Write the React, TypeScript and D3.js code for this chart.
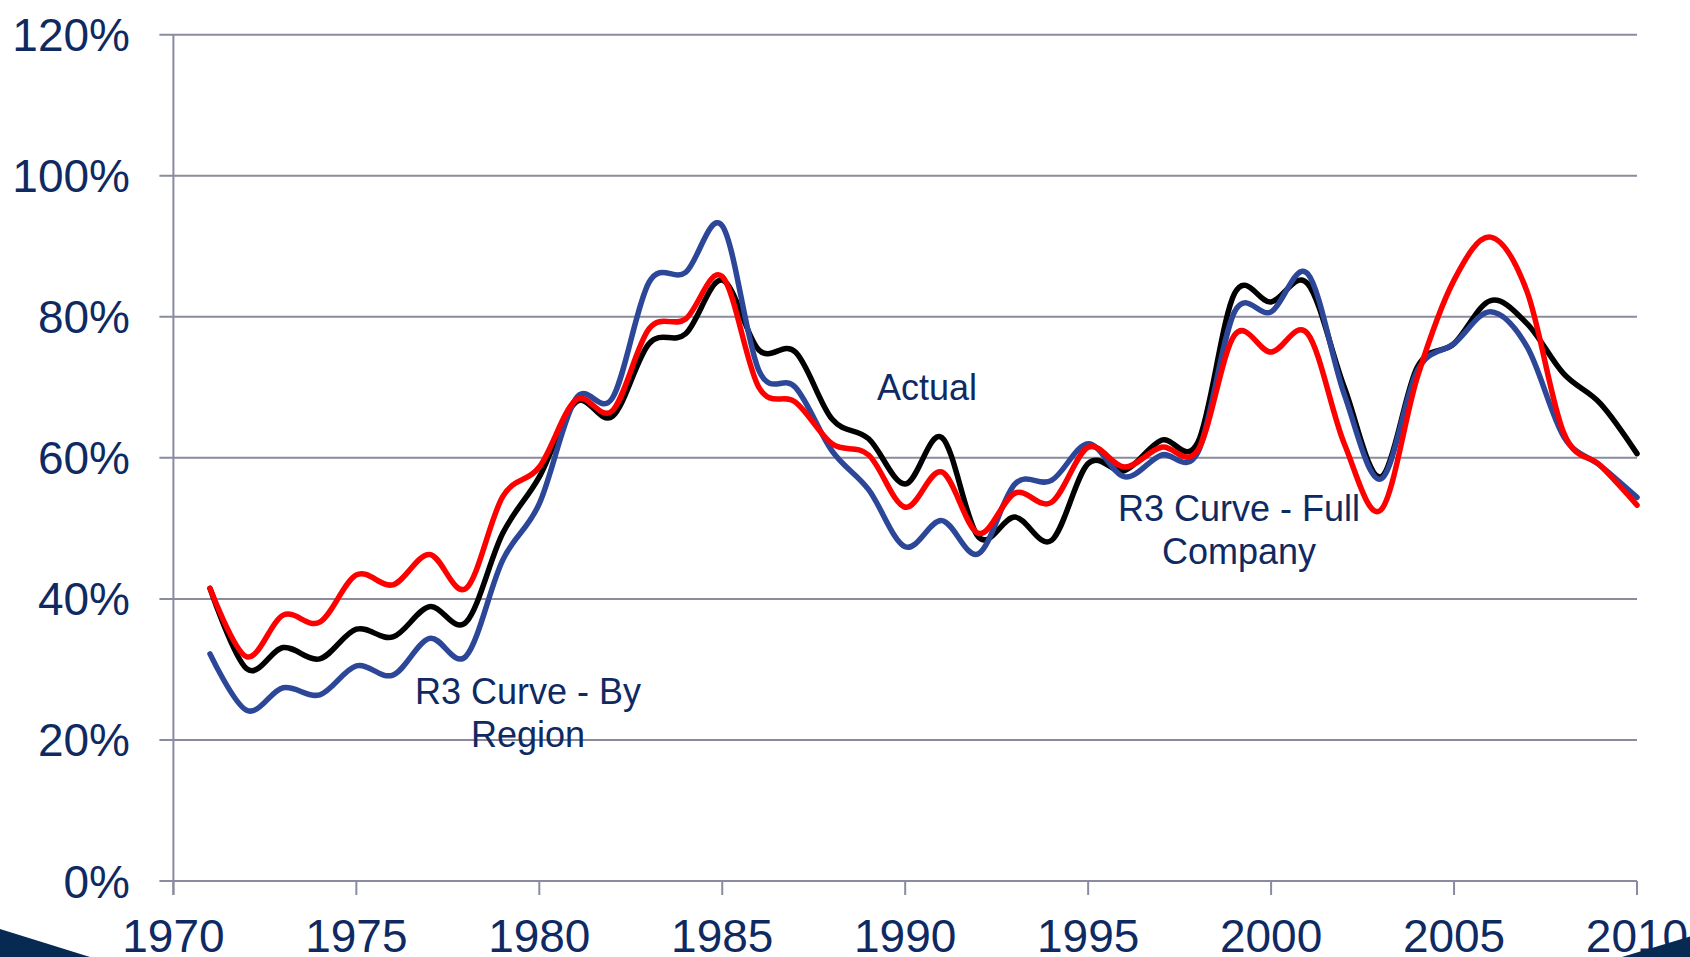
import React, { useEffect, useRef } from 'react';
import * as d3 from 'd3';

// yearly values, in percent
const years = d3.range(1971, 2011);

const actual = [
  41.5, 30.1, 33.1, 31.5, 35.7, 34.6, 38.9, 36.7, 49.3, 57.3,
  67.9, 65.9, 76.2, 77.6, 85.2, 75.3, 75.0, 65.5, 62.7, 56.3,
  62.9, 48.8, 51.6, 48.3, 59.2, 58.2, 62.5, 62.2, 83.3, 82.1,
  84.7, 70.0, 57.3, 72.9, 76.2, 82.3, 79.0, 71.9, 67.7, 60.6,
];

const fullCompany = [
  41.5, 31.8, 37.7, 36.7, 43.4, 42.0, 46.3, 41.5, 54.5, 58.7,
  68.2, 66.7, 78.3, 79.7, 85.7, 70.0, 67.9, 62.0, 60.4, 53.0,
  58.0, 49.3, 55.0, 53.7, 61.5, 58.7, 61.5, 61.1, 77.4, 75.0,
  77.6, 62.0, 52.6, 71.5, 85.2, 91.3, 83.5, 63.5, 58.9, 53.3,
];

const byRegion = [
  32.2, 24.2, 27.4, 26.4, 30.5, 29.2, 34.4, 31.9, 45.5, 53.5,
  68.4, 68.5, 84.9, 86.3, 92.9, 72.4, 70.0, 61.0, 55.5, 47.4,
  51.1, 46.4, 56.3, 56.8, 62.0, 57.3, 60.4, 60.8, 80.7, 80.7,
  86.1, 69.0, 57.0, 72.4, 76.2, 80.7, 75.7, 63.0, 58.9, 54.4,
];

const yTicks = [0, 20, 40, 60, 80, 100, 120];
const xTicks = [1970, 1975, 1980, 1985, 1990, 1995, 2000, 2005, 2010];

const series = [
  { name: 'Actual', values: actual, color: '#000000' },
  { name: 'R3 Curve - By Region', values: byRegion, color: '#2d4798' },
  { name: 'R3 Curve - Full Company', values: fullCompany, color: '#ff0000' },
];

const labels = [
  { lines: ['Actual'], x: 927, y: 400 },
  { lines: ['R3 Curve - By', 'Region'], x: 528, y: 704 },
  { lines: ['R3 Curve - Full', 'Company'], x: 1239, y: 521 },
];

const W = 1690;
const H = 957;
const navy = '#0f2a62';
const grid = '#8a8b9e';
const font = '"Liberation Sans", Arial, sans-serif';

const App = () => {
  const svgRef = useRef(null);

  useEffect(() => {
    const svg = d3.select(svgRef.current);
    svg.selectAll('*').remove();

    const x = d3.scaleLinear().domain([1970, 2010]).range([173.4, 1637]);
    const y = d3.scaleLinear().domain([0, 120]).range([881, 34.7]);

    // horizontal gridlines
    svg.append('g')
      .selectAll('line')
      .data(yTicks)
      .join('line')
      .attr('x1', x(1970) - 14)
      .attr('x2', x(2010))
      .attr('y1', d => y(d))
      .attr('y2', d => y(d))
      .attr('stroke', grid)
      .attr('stroke-width', 2);

    // y axis line
    svg.append('line')
      .attr('x1', x(1970)).attr('x2', x(1970))
      .attr('y1', y(120)).attr('y2', y(0) + 14)
      .attr('stroke', grid)
      .attr('stroke-width', 2);

    // x ticks
    svg.append('g')
      .selectAll('line')
      .data(xTicks)
      .join('line')
      .attr('x1', d => x(d))
      .attr('x2', d => x(d))
      .attr('y1', y(0))
      .attr('y2', y(0) + 14)
      .attr('stroke', grid)
      .attr('stroke-width', 2);

    svg.append('g')
      .selectAll('text')
      .data(yTicks)
      .join('text')
      .attr('x', 130)
      .attr('y', d => y(d) + 16.5)
      .attr('text-anchor', 'end')
      .style('font-family', font)
      .style('font-size', '46px')
      .attr('fill', navy)
      .text(d => `${d}%`);

    svg.append('g')
      .selectAll('text')
      .data(xTicks)
      .join('text')
      .attr('x', d => x(d))
      .attr('y', 951.5)
      .attr('text-anchor', 'middle')
      .style('font-family', font)
      .style('font-size', '46px')
      .attr('fill', navy)
      .text(d => d);

    const line = d3.line()
      .x((d, i) => x(years[i]))
      .y(d => y(d))
      .curve(d3.curveCardinal);

    svg.append('g')
      .selectAll('path')
      .data(series)
      .join('path')
      .attr('d', d => line(d.values))
      .attr('fill', 'none')
      .attr('stroke', d => d.color)
      .attr('stroke-width', 5.5)
      .attr('stroke-linejoin', 'round')
      .attr('stroke-linecap', 'round');

    // series labels
    labels.forEach(l => {
      const t = svg.append('text')
        .attr('text-anchor', 'middle')
        .style('font-family', font)
        .style('font-size', '36px')
        .attr('fill', navy);
      l.lines.forEach((s, i) => {
        t.append('tspan')
          .attr('x', l.x)
          .attr('y', l.y + i * 42.5)
          .text(s);
      });
    });

    // slide corner decorations
    svg.append('polygon')
      .attr('points', `0,929 90,${H} 0,${H}`)
      .attr('fill', '#062a52');
    svg.append('polygon')
      .attr('points', `1622,${H} ${W},936.5 ${W},${H}`)
      .attr('fill', '#062a52');
  }, []);

  return (
    <svg
      ref={svgRef}
      width={W}
      height={H}
      style={{ position: 'absolute', left: 0, top: 0, display: 'block', background: '#fff' }}
    />
  );
};

export default App;
